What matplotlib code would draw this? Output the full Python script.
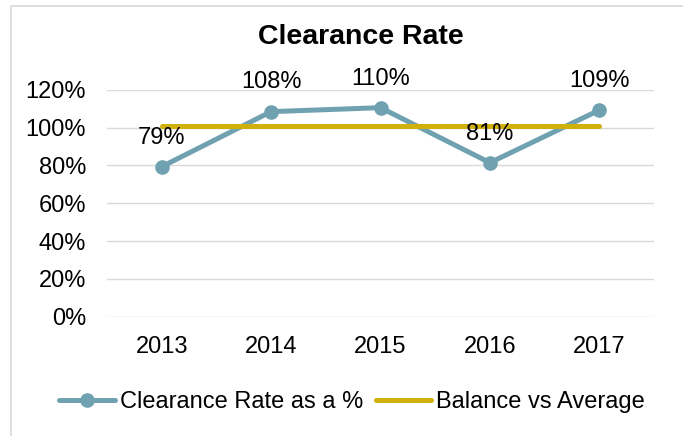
import matplotlib

matplotlib.use("Agg")
import matplotlib.pyplot as plt
from matplotlib.patches import Rectangle
from matplotlib.ticker import FuncFormatter

years = ["2013", "2014", "2015", "2016", "2017"]
clearance_rate = [0.793, 1.084, 1.105, 0.814, 1.092]
rate_labels = ["79%", "108%", "110%", "81%", "109%"]
balance_vs_average = [1.006, 1.006, 1.006, 1.006, 1.006]
y_ticks = [0.0, 0.2, 0.4, 0.6, 0.8, 1.0, 1.2]

BLUE = "#6fa1b0"
GOLD = "#cfb00c"
GRID = "#d9d9d9"

plt.rcParams["font.family"] = ["Liberation Sans", "DejaVu Sans"]

fig = plt.figure(figsize=(6.83, 4.36), dpi=100)
ax = fig.add_axes([107 / 683, 1 - 316.7 / 436, 547 / 683, 227 / 436])

x = list(range(len(years)))
ax.plot(x, clearance_rate, color=BLUE, lw=3.6, marker="o", markersize=9.5,
        solid_capstyle="round", label="Clearance Rate as a %", zorder=3)
ax.plot(x, balance_vs_average, color=GOLD, lw=3.6, solid_capstyle="round",
        label="Balance vs Average", zorder=4)

for xi, yi, text in zip(x, clearance_rate, rate_labels):
    ax.annotate(text, (xi, yi), xytext=(0, 21), textcoords="offset points",
                ha="center", va="center", fontsize=17, color="#000000", zorder=5)

ax.set_xlim(-0.5, len(years) - 0.5)
ax.set_ylim(0, 1.2)
ax.set_xticks(x)
ax.set_xticklabels(years)
ax.set_yticks(y_ticks)
ax.yaxis.set_major_formatter(FuncFormatter(lambda v, _: f"{v * 100:.0f}%"))
ax.tick_params(axis="both", length=0, labelsize=17, colors="#000000")
ax.tick_params(axis="y", pad=15)
ax.tick_params(axis="x", pad=14)
ax.grid(axis="y", color=GRID, lw=1.0)
ax.set_axisbelow(True)
for spine in ax.spines.values():
    spine.set_visible(False)

fig.text(360.7 / 683, 1 - 36.5 / 436, "Clearance Rate", ha="center", va="center",
         fontsize=20.5, fontweight="bold")

fig.legend(loc="center", bbox_to_anchor=(352 / 683, 1 - 402 / 436), ncol=2,
           frameon=False, fontsize=17, handlelength=2.35, handletextpad=0.2,
           columnspacing=0.55, borderaxespad=0)

fig.patches.append(Rectangle((11 / 683, -0.1), 1.2, 1.1 - 6 / 436, fill=False,
                             edgecolor=GRID, lw=1.2, transform=fig.transFigure))

fig.savefig("out.png", dpi=100)
